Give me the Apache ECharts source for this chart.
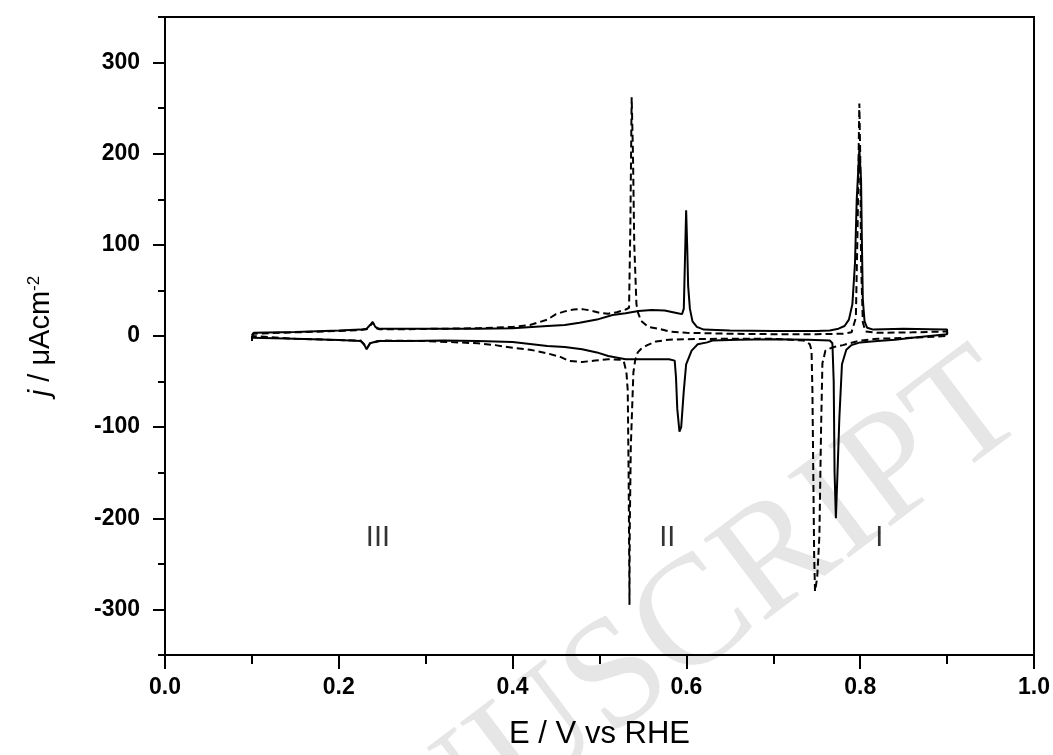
<!DOCTYPE html>
<html>
<head>
<meta charset="utf-8">
<script src="https://cdn.jsdelivr.net/npm/echarts@6/dist/echarts.min.js"></script>
<style>
html,body{margin:0;padding:0;background:#fff;}
#chart{width:1053px;height:755px;}
</style>
</head>
<body>
<div id="chart"></div>
<script>
// ---- Data (E / V vs RHE, j / µA cm^-2) ----
// Solid curve, anodic (positive-going) sweep
const solidAnodicE = [0.100,0.102,0.150,0.200,0.225,0.232,0.236,0.239,0.242,0.246,0.280,0.320,0.360,0.400,0.440,0.460,0.477,0.497,0.515,0.530,0.545,0.560,0.575,0.590,0.595,0.597,0.5985,0.5997,0.601,0.602,0.604,0.607,0.612,0.620,0.650,0.700,0.750,0.765,0.775,0.782,0.787,0.791,0.794,0.796,0.799,0.801,0.802,0.803,0.805,0.808,0.815,0.850,0.880,0.900];
const solidAnodicJ = [1,3.5,4.5,6,7,8,12,15.5,10,8,8,8,8,8.5,11,12,14.5,18,23,25,27.5,28.5,28,25,24,30,90,138,95,55,30,16,10,7,6,5.5,5.5,6,8,11,18,35,80,150,205,170,100,40,16,9,7,8,7.5,7];
// Solid curve, cathodic (negative-going) sweep
const solidCathodicE = [0.900,0.880,0.860,0.840,0.820,0.800,0.790,0.784,0.779,0.776,0.7735,0.772,0.7705,0.7695,0.768,0.765,0.740,0.700,0.660,0.630,0.624,0.613,0.606,0.5997,0.597,0.594,0.592,0.5895,0.588,0.5865,0.580,0.560,0.530,0.510,0.497,0.480,0.460,0.440,0.400,0.360,0.320,0.280,0.245,0.236,0.232,0.229,0.225,0.200,0.150,0.100];
const solidCathodicJ = [2,0,-2,-4,-5.5,-7,-10,-15,-31,-90,-160,-200,-150,-50,-8,-5,-4,-3.5,-4,-5,-7,-9,-16,-31,-60,-100,-105,-80,-45,-27,-25.5,-25.5,-25.5,-22,-18,-14.5,-12,-11,-6.5,-5.5,-5,-5.5,-5.5,-8,-14.5,-9,-5.5,-4.5,-3,-2];
// Dashed curve, anodic sweep
const dashedAnodicE = [0.100,0.102,0.150,0.200,0.225,0.232,0.236,0.239,0.242,0.246,0.280,0.320,0.360,0.400,0.420,0.440,0.450,0.460,0.470,0.480,0.490,0.500,0.510,0.520,0.530,0.534,0.5355,0.537,0.5385,0.540,0.5425,0.5445,0.548,0.556,0.568,0.580,0.600,0.650,0.700,0.750,0.780,0.790,0.795,0.797,0.799,0.800,0.801,0.803,0.806,0.820,0.860,0.900];
const dashedAnodicJ = [0,2.5,4,5.5,6.5,7.5,11,15,9,7.5,7.5,8,8.5,10,12,18,24,27,29,29.5,28,25.5,24.5,26,29,31,120,262,200,100,35,25,16.5,10,8,5,3.5,2.5,2,2,2.5,4,20,120,255,200,80,15,5,3.5,4,5];
// Dashed curve, cathodic sweep
const dashedCathodicE = [0.900,0.860,0.820,0.800,0.780,0.770,0.764,0.760,0.7565,0.755,0.753,0.7505,0.748,0.747,0.746,0.745,0.744,0.742,0.735,0.700,0.650,0.600,0.580,0.565,0.555,0.548,0.544,0.541,0.539,0.538,0.536,0.5348,0.5345,0.5335,0.5325,0.531,0.528,0.525,0.510,0.495,0.480,0.465,0.455,0.440,0.420,0.400,0.380,0.360,0.300,0.250,0.236,0.232,0.229,0.225,0.200,0.150,0.100];
const dashedCathodicJ = [0,-2,-3,-5,-10,-12,-14,-16,-30,-100,-220,-265,-280,-240,-150,-60,-16,-9,-5,-3,-3,-3.5,-4,-6,-10,-14,-18,-27,-40,-67,-122,-212,-295,-150,-60,-40,-28,-26,-25.5,-27,-28.5,-27.5,-23,-19,-15,-13,-10,-8,-5.5,-5,-8,-14,-9,-5,-4.5,-3,0];
// Region labels
const regionNames = ['III','II','I'];
const regionE = [0.245,0.578,0.822];
const regionJ = [-222,-222,-222];
// Tick values
const yMajorTicks = [-300,-200,-100,0,100,200,300];
const yMinorTicks = [-350,-250,-150,-50,50,150,250,350];

function zip(es, js){ return es.map((e,i)=>[e, js[i]]); }
const solidLoop = zip(solidAnodicE, solidAnodicJ).concat(zip(solidCathodicE, solidCathodicJ));
const dashedLoop = zip(dashedAnodicE, dashedAnodicJ).concat(zip(dashedCathodicE, dashedCathodicJ));

const FONT = '"Liberation Sans", Arial, sans-serif';
const chart = echarts.init(document.getElementById('chart'), null, {renderer:'canvas'});
const black = '#000';

chart.setOption({
  animation: false,
  backgroundColor: '#fff',
  graphic: [{
    type: 'text',
    z: -10,
    x: 605, y: 690,
    rotation: 37 * Math.PI / 180,
    silent: true,
    style: {
      text: 'MANUSCRIPT',
      font: '156px "Liberation Serif", "Times New Roman", serif',
      fill: '#e6e6e6',
      textAlign: 'center',
      textVerticalAlign: 'middle'
    }
  }],
  grid: {left:165, right:18, top:17, bottom:98, show:true, borderColor:black, borderWidth:2, backgroundColor:'transparent'},
  xAxis: [{
    type:'value', min:0, max:1, interval:0.2, position:'bottom',
    axisLine:{show:true, onZero:false, lineStyle:{color:black, width:2}},
    axisTick:{show:true, length:14, lineStyle:{color:black, width:2}},
    minorTick:{show:true, splitNumber:2, length:9, lineStyle:{color:black, width:2}},
    splitLine:{show:false}, minorSplitLine:{show:false},
    axisLabel:{color:black, fontFamily:FONT, fontWeight:'bold', fontSize:23, margin:21,
      formatter:v=>v.toFixed(1)},
    name:'E / V vs RHE', nameLocation:'middle', nameGap:64,
    nameTextStyle:{color:black, fontFamily:FONT, fontSize:31}
  },{
    type:'value', min:0, max:1, position:'top',
    axisLine:{show:false},
    axisTick:{show:true, inside:true, length:5, customValues:[0.1], lineStyle:{color:black, width:2}},
    axisLabel:{show:false}, splitLine:{show:false}
  }],
  yAxis: [{
    type:'value', min:-350, max:350, position:'left',
    axisLine:{show:true, onZero:false, lineStyle:{color:black, width:2}},
    axisTick:{show:true, length:12, customValues:yMajorTicks, lineStyle:{color:black, width:2}},
    splitLine:{show:false},
    axisLabel:{color:black, fontFamily:FONT, fontWeight:'bold', fontSize:23, margin:25, customValues:yMajorTicks},
    name:'{i|j} / μAcm{sup|-2}', nameLocation:'middle', nameGap:110,
    nameTextStyle:{color:black, fontFamily:FONT, fontSize:29,
      rich:{
        i:{fontStyle:'italic', fontFamily:FONT, fontSize:29, color:black},
        sup:{fontFamily:FONT, fontSize:17, color:black, verticalAlign:'top'}
      }}
  },{
    type:'value', min:-350, max:350, position:'left',
    axisLine:{show:false},
    axisTick:{show:true, length:7, customValues:yMinorTicks, lineStyle:{color:black, width:2}},
    axisLabel:{show:false}, splitLine:{show:false}
  },{
    type:'value', min:-350, max:350, position:'right',
    axisLine:{show:false},
    axisTick:{show:true, inside:true, length:12, customValues:[0], lineStyle:{color:black, width:2}},
    axisLabel:{show:false}, splitLine:{show:false}
  }],
  series: [{
    name:'solid', type:'line', data:solidLoop, showSymbol:false, symbol:'none',
    lineStyle:{color:black, width:2, type:'solid'}, z:3, clip:true
  },{
    name:'dashed', type:'line', data:dashedLoop, showSymbol:false, symbol:'none',
    lineStyle:{color:black, width:2, type:[7,4]}, z:2, clip:true
  },{
    name:'regions', type:'scatter', symbolSize:0,
    data: regionNames.map((n,i)=>({value:[regionE[i], regionJ[i]], name:n})),
    label:{show:true, position:'inside', formatter:p=>p.name, color:black, fontFamily:FONT, fontSize:29},
    silent:true, z:4
  }]
});
</script>
</body>
</html>
